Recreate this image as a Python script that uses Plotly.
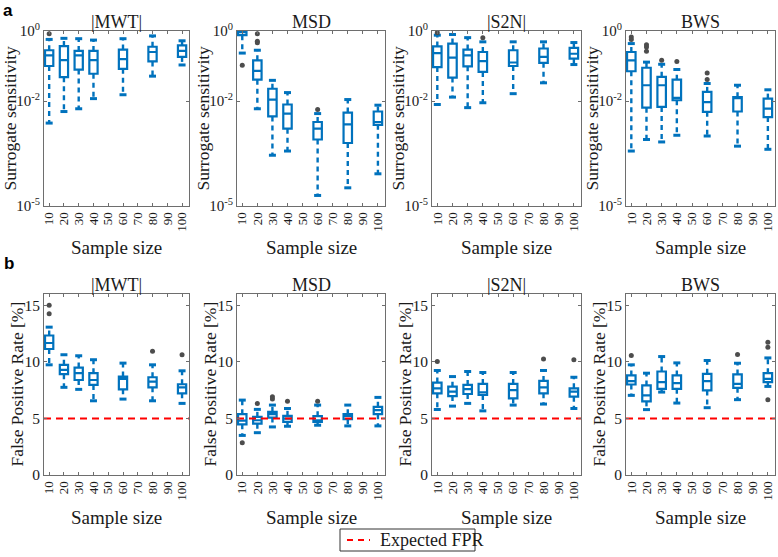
import plotly.graph_objects as go

# ---------------- data ----------------
SIZES = [10, 20, 30, 40, 60, 80, 100]
TICK_VALS = [10, 20, 30, 40, 50, 60, 70, 80, 90, 100]
TICK_TEXT = ["10", "20", "30", "40", "50", "60", "70", "80", "90", "100"]
TITLES = ["|MWT|", "MSD", "|S2N|", "BWS"]
LOG_TICK_VALS = [1e-5, 1e-2, 1]
LOG_TICK_TEXT = ["10<sup>-5</sup>", "10<sup>-2</sup>", "10<sup>0</sup>"]
FPR_TICK_VALS = [0, 5, 10, 15]

# Row a: surrogate sensitivity (log scale)
sens_hi = {
    "|MWT|": [0.575, 0.617, 0.603, 0.550, 0.603, 0.724, 0.525],
    "MSD":   [1.0, 0.282, 0.0389, 0.0174, 0.00437, 0.011, 0.00759],
    "|S2N|": [0.759, 0.794, 0.646, 0.490, 0.490, 0.490, 0.468],
    "BWS":   [0.437, 0.129, 0.112, 0.0794, 0.0316, 0.0282, 0.0209],
}
sens_q3 = {
    "|MWT|": [0.282, 0.372, 0.269, 0.269, 0.295, 0.355, 0.389],
    "MSD":   [1.0, 0.145, 0.0224, 0.00794, 0.00251, 0.00468, 0.00501],
    "|S2N|": [0.363, 0.437, 0.295, 0.251, 0.282, 0.316, 0.331],
    "BWS":   [0.251, 0.0891, 0.049, 0.0407, 0.0182, 0.0129, 0.0117],
}
sens_med = {
    "|MWT|": [0.200, 0.148, 0.200, 0.148, 0.158, 0.251, 0.269],
    "MSD":   [0.933, 0.0724, 0.011, 0.00437, 0.00162, 0.00214, 0.00251],
    "|S2N|": [0.234, 0.174, 0.200, 0.138, 0.126, 0.182, 0.224],
    "BWS":   [0.145, 0.0282, 0.0282, 0.0123, 0.00933, 0.012, 0.00603],
}
sens_q1 = {
    "|MWT|": [0.100, 0.048, 0.079, 0.060, 0.083, 0.135, 0.182],
    "MSD":   [0.759, 0.0407, 0.00363, 0.00162, 0.000794, 0.000631, 0.00209],
    "|S2N|": [0.0933, 0.0468, 0.0977, 0.0676, 0.100, 0.123, 0.162],
    "BWS":   [0.0708, 0.00646, 0.00676, 0.0105, 0.0049, 0.00501, 0.00347],
}
sens_lo = {
    "|MWT|": [0.00234, 0.0050, 0.0060, 0.0117, 0.0151, 0.0513, 0.107],
    "MSD":   [0.234, 0.0060, 0.000282, 0.000372, 0.00002, 0.0000331, 0.0000832],
    "|S2N|": [0.00794, 0.0129, 0.00646, 0.00891, 0.0162, 0.0331, 0.110],
    "BWS":   [0.000372, 0.000794, 0.000676, 0.00105, 0.001, 0.000513, 0.000417],
}
sens_out_x = {
    "|MWT|": [10],
    "MSD":   [10, 20, 20, 20, 60],
    "|S2N|": [10, 40],
    "BWS":   [10, 10, 20, 20, 20, 30, 40, 60, 60],
}
sens_out_y = {
    "|MWT|": [0.83],
    "MSD":   [0.105, 0.83, 0.51, 0.46, 0.00575],
    "|S2N|": [0.89, 0.646],
    "BWS":   [0.676, 0.575, 0.407, 0.347, 0.263, 0.145, 0.135, 0.063, 0.041],
}

# Row b: false positive rate [%]
fpr_hi = {
    "|MWT|": [13.07, 10.63, 10.54, 10.19, 9.89, 9.74, 9.21],
    "MSD":   [6.62, 5.80, 6.18, 5.88, 6.18, 6.18, 6.86],
    "|S2N|": [9.24, 8.70, 9.15, 9.06, 9.06, 9.24, 8.64],
    "BWS":   [9.74, 9.00, 10.47, 9.91, 10.12, 9.88, 10.35],
}
fpr_q3 = {
    "|MWT|": [12.33, 9.74, 9.50, 9.00, 8.70, 8.64, 8.02],
    "MSD":   [5.38, 5.14, 5.58, 5.23, 5.20, 5.38, 6.03],
    "|S2N|": [8.17, 7.81, 7.96, 8.05, 8.05, 8.32, 7.66],
    "BWS":   [8.80, 7.92, 9.15, 8.80, 8.94, 8.89, 9.00],
}
fpr_med = {
    "|MWT|": [11.67, 9.30, 9.00, 8.40, 8.49, 8.26, 7.75],
    "MSD":   [4.80, 4.84, 5.38, 4.99, 4.84, 5.23, 5.73],
    "|S2N|": [7.66, 7.37, 7.60, 7.31, 7.51, 7.75, 7.37],
    "BWS":   [8.30, 7.04, 8.21, 8.12, 8.30, 8.06, 8.50],
}
fpr_q1 = {
    "|MWT|": [11.14, 8.91, 8.40, 7.96, 7.57, 7.75, 7.22],
    "MSD":   [4.48, 4.54, 5.08, 4.69, 4.69, 4.93, 5.38],
    "|S2N|": [7.22, 6.98, 7.16, 7.07, 6.77, 7.22, 6.92],
    "BWS":   [8.00, 6.51, 7.62, 7.62, 7.48, 7.71, 8.21],
}
fpr_lo = {
    "|MWT|": [9.74, 7.75, 7.57, 6.56, 6.71, 6.56, 6.33],
    "MSD":   [3.50, 3.74, 4.25, 4.31, 4.40, 4.34, 4.34],
    "|S2N|": [5.79, 6.09, 6.33, 5.67, 6.18, 6.27, 5.88],
    "BWS":   [7.04, 5.78, 7.33, 6.36, 5.95, 6.66, 7.83],
}
fpr_out_x = {
    "|MWT|": [10, 10, 80, 100],
    "MSD":   [10, 20, 30, 30, 40, 60],
    "|S2N|": [10, 80, 100],
    "BWS":   [10, 80, 100, 100, 100],
}
fpr_out_y = {
    "|MWT|": [15.0, 14.26, 10.93, 10.63],
    "MSD":   [2.85, 6.33, 6.92, 6.71, 6.53, 6.53],
    "|S2N|": [10.04, 10.25, 10.19],
    "BWS":   [10.56, 10.65, 11.73, 11.29, 6.66],
}
EXPECTED_FPR = 5
LEGEND_LABEL = "Expected FPR"

# ---------------- styling ----------------
BLUE = "#0072BD"
RED = "#ff0000"
GRAY_PT = "#4d4d4d"
FRAME = "#6e6e6e"
SERIF = "Liberation Serif"
W, H = 778, 557
X_RANGE = [6.5, 104.7]
BOX_W = 5.6

# panel frames in pixels
COLS_PX = [(44, 189), (237, 385), (432, 581), (626, 775)]
ROWS_PX = [(31, 206), (294, 475)]
LEGEND_BOX_PX = (340, 529, 475, 551)


def fx(px):
    return px / W


def fy(py):
    return 1 - py / H


fig = go.Figure()
layout = {}


def add_panel(idx, row, col, hi, q3, med, q1, lo, ox, oy, logy):
    xa = "x" if idx == 1 else f"x{idx}"
    ya = "y" if idx == 1 else f"y{idx}"
    fig.add_trace(go.Box(
        x=SIZES, q1=q1, median=med, q3=q3, lowerfence=q1, upperfence=q3,
        width=BOX_W, whiskerwidth=0, boxpoints=False,
        line=dict(color=BLUE, width=2.2), fillcolor="rgba(255,255,255,0)",
        xaxis=xa, yaxis=ya, showlegend=False, hoverinfo="skip",
    ))
    wx, wy = [], []
    for s, a, b, c, d in zip(SIZES, hi, q3, q1, lo):
        wx += [s, s, None, s, s, None]
        wy += [b, a, None, c, d, None]
    fig.add_trace(go.Scatter(
        x=wx, y=wy, mode="lines", line=dict(color=BLUE, width=2.4, dash="5px,4px"),
        xaxis=xa, yaxis=ya, showlegend=False, hoverinfo="skip",
    ))
    fig.add_trace(go.Scatter(
        x=SIZES + SIZES, y=list(hi) + list(lo), mode="markers",
        marker=dict(symbol="line-ew", size=5, line=dict(color=BLUE, width=3)),
        xaxis=xa, yaxis=ya, showlegend=False, hoverinfo="skip",
    ))
    fig.add_trace(go.Scatter(
        x=ox, y=oy, mode="markers",
        marker=dict(symbol="circle", size=5, color=GRAY_PT),
        xaxis=xa, yaxis=ya, showlegend=False, hoverinfo="skip",
    ))
    xkey = "xaxis" if idx == 1 else f"xaxis{idx}"
    ykey = "yaxis" if idx == 1 else f"yaxis{idx}"
    layout[xkey] = dict(
        domain=[fx(COLS_PX[col][0]), fx(COLS_PX[col][1])], anchor=ya, range=X_RANGE,
        automargin=False,
        tickmode="array", tickvals=TICK_VALS, ticktext=TICK_TEXT, tickangle=-90,
        ticks="inside", ticklen=3, tickcolor=FRAME, showline=True, linecolor=FRAME,
        linewidth=1, mirror="ticks", showgrid=False, zeroline=False,
        tickfont=dict(family=SERIF, size=13, color="#1a1a1a"),
    )
    ydomain = [fy(ROWS_PX[row][1]), fy(ROWS_PX[row][0])]
    if logy:
        layout[ykey] = dict(
            domain=ydomain, anchor=xa, type="log", range=[-5, 0], automargin=False,
            tickmode="array", tickvals=LOG_TICK_VALS, ticktext=LOG_TICK_TEXT,
            ticks="inside", ticklen=3, tickcolor=FRAME, showline=True, linecolor=FRAME,
            linewidth=1, mirror="ticks", showgrid=False, zeroline=False,
            tickfont=dict(family=SERIF, size=15, color="#1a1a1a"),
        )
    else:
        layout[ykey] = dict(
            domain=ydomain, anchor=xa, range=[0, 16], automargin=False,
            tickmode="array", tickvals=FPR_TICK_VALS,
            ticks="inside", ticklen=3, tickcolor=FRAME, showline=True, linecolor=FRAME,
            linewidth=1, mirror="ticks", showgrid=False, zeroline=False,
            tickfont=dict(family=SERIF, size=15.5, color="#1a1a1a"),
        )
    return xa, ya


annotations = []
shapes = []
for c, name in enumerate(TITLES):
    add_panel(c + 1, 0, c, sens_hi[name], sens_q3[name], sens_med[name], sens_q1[name],
              sens_lo[name], sens_out_x[name], sens_out_y[name], True)
    xa, ya = add_panel(c + 5, 1, c, fpr_hi[name], fpr_q3[name], fpr_med[name], fpr_q1[name],
                       fpr_lo[name], fpr_out_x[name], fpr_out_y[name], False)
    fig.add_trace(go.Scatter(
        x=X_RANGE, y=[EXPECTED_FPR, EXPECTED_FPR], mode="lines",
        line=dict(color=RED, width=2, dash="7px,5px"),
        xaxis=xa, yaxis=ya, name=LEGEND_LABEL, showlegend=False, hoverinfo="skip",
    ))
    cxp = (COLS_PX[c][0] + COLS_PX[c][1]) / 2
    for r in range(2):
        annotations.append(dict(
            text=name, x=fx(cxp), y=fy(ROWS_PX[r][0]), xref="paper", yref="paper",
            xanchor="center", yanchor="bottom", showarrow=False, yshift=-3,
            font=dict(family=SERIF, size=18, color="#1a1a1a"),
        ))
        annotations.append(dict(
            text="Sample size", x=fx(cxp), y=fy(ROWS_PX[r][1] + 42), xref="paper", yref="paper",
            xanchor="center", yanchor="middle", showarrow=False,
            font=dict(family=SERIF, size=19, color="#1a1a1a"),
        ))
        ytitle = "Surrogate sensitivity" if r == 0 else "False Positive Rate [%]"
        ycen = (ROWS_PX[r][0] + ROWS_PX[r][1]) / 2
        annotations.append(dict(
            text=ytitle, x=fx(COLS_PX[c][0] - (35 if r == 0 else 28)), y=fy(ycen),
            xref="paper", yref="paper", textangle=-90,
            xanchor="center", yanchor="middle", showarrow=False,
            font=dict(family=SERIF, size=17.5, color="#1a1a1a"),
        ))

annotations.append(dict(text="<b>a</b>", x=fx(2), y=fy(0), xref="paper", yref="paper",
                        xanchor="left", yanchor="top", showarrow=False, borderpad=0,
                        font=dict(family="Liberation Sans", size=17, color="#000")))
annotations.append(dict(text="<b>b</b>", x=fx(2), y=fy(263), xref="paper", yref="paper",
                        xanchor="left", yanchor="middle", showarrow=False,
                        font=dict(family="Liberation Sans", size=17, color="#000")))

# legend box (drawn as a framed key below the panels)
lx0, ly0, lx1, ly1 = LEGEND_BOX_PX
lym = (ly0 + ly1) / 2
shapes.append(dict(type="rect", xref="paper", yref="paper",
                   x0=fx(lx0), x1=fx(lx1), y0=fy(ly1), y1=fy(ly0),
                   line=dict(color="#333", width=1), fillcolor="white"))
shapes.append(dict(type="line", xref="paper", yref="paper",
                   x0=fx(lx0 + 7), x1=fx(lx0 + 30), y0=fy(lym), y1=fy(lym),
                   line=dict(color=RED, width=2, dash="6px,5px")))
annotations.append(dict(text=LEGEND_LABEL, x=fx(lx0 + 38), y=fy(lym), xref="paper", yref="paper",
                        xanchor="left", yanchor="middle", showarrow=False,
                        font=dict(family=SERIF, size=18, color="#1a1a1a")))

fig.update_layout(
    template="none",
    width=W, height=H, margin=dict(l=0, r=0, t=0, b=0, pad=0, autoexpand=False),
    paper_bgcolor="white", plot_bgcolor="white",
    annotations=annotations, shapes=shapes, showlegend=False,
    **layout,
)

fig.write_html("out.html", config={"displayModeBar": False},
               post_script="document.body.style.margin='0px';")
